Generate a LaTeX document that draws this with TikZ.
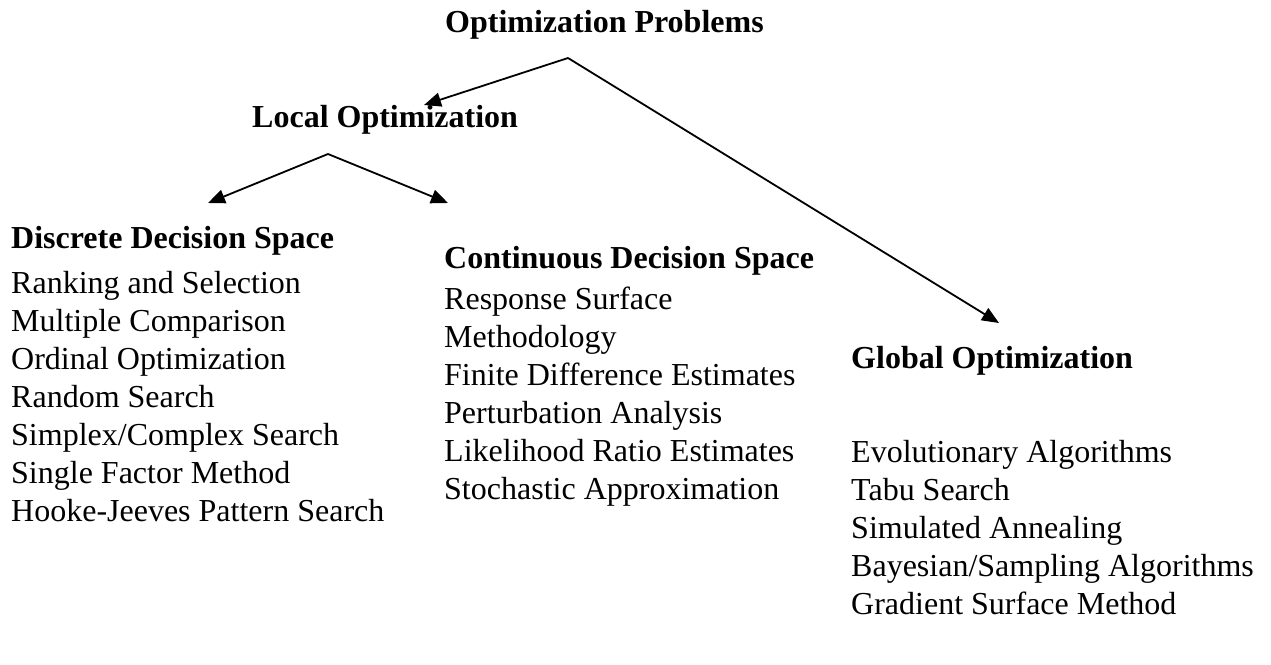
\documentclass[tikz,border=0pt]{standalone}
\usepackage{fontspec}
\setmainfont{Liberation Serif}
\usetikzlibrary{arrows.meta}
\begin{document}
\begin{tikzpicture}[x=1pt,y=-1pt,
  label text/.style={anchor=base west,inner sep=0pt,font=\fontsize{32}{38}\selectfont},
  head text/.style={label text,font=\fontsize{32}{38}\selectfont\bfseries},
  link/.style={line width=1.8pt,-{Triangle[length=17pt,width=14pt]}}]
\useasboundingbox[fill=white] (0,0) rectangle (1271,664);

% headings
\node[head text] (opt)   at (445,32)  {Optimization Problems};
\node[head text] (local) at (252,127) {Local Optimization};
\node[head text] (disc)  at (11,248)  {Discrete Decision Space};
\node[head text] (cont)  at (444,268) {Continuous Decision Space};
\node[head text] (glob)  at (851,368) {Global Optimization};

% discrete methods
\node[label text] (d1) at (11,293) {Ranking and Selection};
\node[label text] (d2) at (11,331) {Multiple Comparison};
\node[label text] (d3) at (11,369) {Ordinal Optimization};
\node[label text] (d4) at (11,407) {Random Search};
\node[label text] (d5) at (11,445) {Simplex/Complex Search};
\node[label text] (d6) at (11,483) {Single Factor Method};
\node[label text] (d7) at (11,521) {Hooke-Jeeves Pattern Search};

% continuous methods
\node[label text] (c1) at (444,309) {Response Surface};
\node[label text] (c2) at (444,347) {Methodology};
\node[label text] (c3) at (444,385) {Finite Difference Estimates};
\node[label text] (c4) at (444,423) {Perturbation Analysis};
\node[label text] (c5) at (444,461) {Likelihood Ratio Estimates};
\node[label text] (c6) at (444,499) {Stochastic Approximation};

% global methods
\node[label text] (g1) at (851,462) {Evolutionary Algorithms};
\node[label text] (g2) at (851,500) {Tabu Search};
\node[label text] (g3) at (851,538) {Simulated Annealing};
\node[label text] (g4) at (851,576) {Bayesian/Sampling Algorithms};
\node[label text] (g5) at (851,614) {Gradient Surface Method};

% branch points and arrow tips
\coordinate (opt-fork)   at (568,58);
\coordinate (local-tip)  at (424,105);
\coordinate (glob-tip)   at (999,323);
\coordinate (local-fork) at (328,154);
\coordinate (disc-tip)   at (208,203);
\coordinate (cont-tip)   at (448,203);

\draw[link] (opt-fork) -- (local-tip);
\draw[link] (opt-fork) -- (glob-tip);
\draw[link] (local-fork) -- (disc-tip);
\draw[link] (local-fork) -- (cont-tip);
\end{tikzpicture}
\end{document}
